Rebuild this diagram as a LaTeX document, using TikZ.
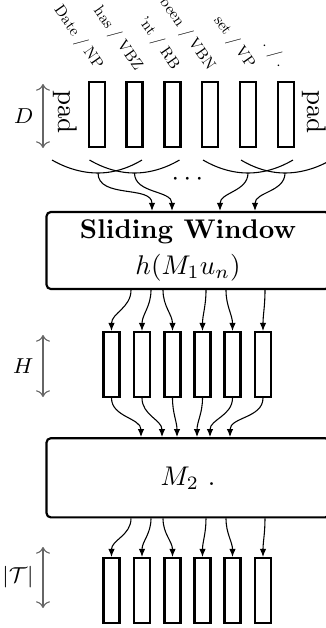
\documentclass[tikz,border=0pt]{standalone}
\usepackage{tikz}
\usetikzlibrary{calc,arrows.meta}
\newcommand{\tagtext}[1]{\scalebox{0.58}{#1}}
\tikzset{
  cell/.style={draw,thick,minimum width=5.9pt,minimum height=24pt,inner sep=0pt},
  layer/.style={draw,thick,rounded corners=1.6pt,minimum width=104.7pt,minimum height=28.5pt,align=center,inner sep=0pt},
  word/.style={rotate=-55,anchor=east,inner sep=0.3pt},
  flow/.style={-{Latex[length=3pt,width=2.4pt]}},
  dim/.style={<->,gray!80!black},
  dimlab/.style={left,text=black,font=\footnotesize}
}
\begin{document}
\begin{tikzpicture}[x=0.37pt,y=-0.37pt]
\useasboundingbox (0,0) rectangle (325,628);
% input words
\node[cell] (w1) at (97,114.5) {}; \node[cell] (w2) at (134.5,114.5) {}; \node[cell] (w3) at (172.5,114.5) {};
\node[cell] (w4) at (210,114.5) {}; \node[cell] (w5) at (248,114.5) {}; \node[cell] (w6) at (286,114.5) {};
\node[word] (t1) at ($(w1.north)+(3,-12)$) {\tagtext{Date / NP}}; \node[word] (t2) at ($(w2.north)+(5,-11)$) {\tagtext{has / VBZ}};
\node[word] (t3) at ($(w3.north)+(4,-12)$) {\tagtext{'nt / RB}}; \node[word] (t4) at ($(w4.north)+(2,-11)$) {\tagtext{been / VBN}};
\node[word] (t5) at ($(w5.north)+(4,-13)$) {\tagtext{set / VP}}; \node[word] (t6) at ($(w6.north)+(-3,-14)$) {\tagtext{. / .}};
\node[rotate=-90] (padl) at (65,112) {pad}; \node[rotate=-90] (padr) at (314,112) {pad};
\coordinate (d1) at (43,84); \coordinate (d2) at (43,148);
\draw[dim] (d1) -- node[dimlab] {$D$} (d2);
% windows
\coordinate (ul1) at ($(w1.south)+(-45,12)$); \coordinate (ub1) at ($(w1.south)+(1,25)$); \coordinate (ur1) at ($(w1.south)+(45,12)$);
\coordinate (ul2) at ($(w2.south)+(-45,12)$); \coordinate (ub2) at ($(w2.south)+(0,25)$); \coordinate (ur2) at ($(w2.south)+(45,12)$);
\coordinate (ul5) at ($(w5.south)+(-45,12)$); \coordinate (ub5) at ($(w5.south)+(0,25)$); \coordinate (ur5) at ($(w5.south)+(45,12)$);
\coordinate (ul6) at ($(w6.south)+(-45,12)$); \coordinate (ub6) at ($(w6.south)+(-1,25)$); \coordinate (ur6) at ($(w6.south)+(45,12)$);
\draw (ul1) parabola bend (ub1) (ur1); \draw (ul2) parabola bend (ub2) (ur2);
\draw (ul5) parabola bend (ub5) (ur5); \draw (ul6) parabola bend (ub6) (ur6);
\node (dots) at (187.5,179) {$\cdots$};
% sliding window
\node[layer] (sw) at (188,250.5) {\textbf{Sliding Window}\\[1pt] $h(M_1u_n)$};
\draw[flow] (ub1) to[out=-90,in=90] ($(sw.north)+(-36,0)$); \draw[flow] (ub2) to[out=-90,in=90] ($(sw.north)+(-16,0)$);
\draw[flow] (ub5) to[out=-90,in=90] ($(sw.north)+(32,0)$); \draw[flow] (ub6) to[out=-90,in=90] ($(sw.north)+(67,0)$);
% hidden
\node[cell] (h1) at (111.5,364.5) {}; \node[cell] (h2) at (142,364.5) {}; \node[cell] (h3) at (172.5,364.5) {};
\node[cell] (h4) at (202.5,364.5) {}; \node[cell] (h5) at (232.5,364.5) {}; \node[cell] (h6) at (263,364.5) {};
\coordinate (e1) at (43,335); \coordinate (e2) at (43,397);
\draw[dim] (e1) -- node[dimlab] {$H$} (e2);
\draw[flow] ($(sw.south)+(-57,0)$) to[out=-90,in=90] (h1.north); \draw[flow] ($(sw.south)+(-37,0)$) to[out=-90,in=90] (h2.north);
\draw[flow] ($(sw.south)+(-25,0)$) to[out=-90,in=90] (h3.north); \draw[flow] ($(sw.south)+(18,0)$) to[out=-90,in=90] (h4.north);
\draw[flow] ($(sw.south)+(38,0)$) to[out=-90,in=90] (h5.north); \draw[flow] ($(sw.south)+(77,0)$) to[out=-90,in=90] (h6.north);
% output layer
\node[layer,minimum height=29.3pt] (m2) at (188,477.8) {$M_2\ .$};
\draw[flow] (h1.south) to[out=-90,in=90] ($(m2.north)+(-47,0)$); \draw[flow] (h2.south) to[out=-90,in=90] ($(m2.north)+(-26,0)$);
\draw[flow] (h3.south) to[out=-90,in=90] ($(m2.north)+(-11,0)$); \draw[flow] (h4.south) to[out=-90,in=90] ($(m2.north)+(9,0)$);
\draw[flow] (h5.south) to[out=-90,in=90] ($(m2.north)+(22,0)$); \draw[flow] (h6.south) to[out=-90,in=90] ($(m2.north)+(42,0)$);
% tags
\node[cell] (o1) at (111.5,590.5) {}; \node[cell] (o2) at (142,590.5) {}; \node[cell] (o3) at (172.5,590.5) {};
\node[cell] (o4) at (202.5,590.5) {}; \node[cell] (o5) at (232.5,590.5) {}; \node[cell] (o6) at (263,590.5) {};
\coordinate (f1) at (43,547); \coordinate (f2) at (43,608);
\draw[dim] (f1) -- node[dimlab] {$|\mathcal{T}|$} (f2);
\draw[flow] ($(m2.south)+(-57,0)$) to[out=-90,in=90] (o1.north); \draw[flow] ($(m2.south)+(-37,0)$) to[out=-90,in=90] (o2.north);
\draw[flow] ($(m2.south)+(-25,0)$) to[out=-90,in=90] (o3.north); \draw[flow] ($(m2.south)+(18,0)$) to[out=-90,in=90] (o4.north);
\draw[flow] ($(m2.south)+(38,0)$) to[out=-90,in=90] (o5.north); \draw[flow] ($(m2.south)+(77,0)$) to[out=-90,in=90] (o6.north);
\end{tikzpicture}
\end{document}
